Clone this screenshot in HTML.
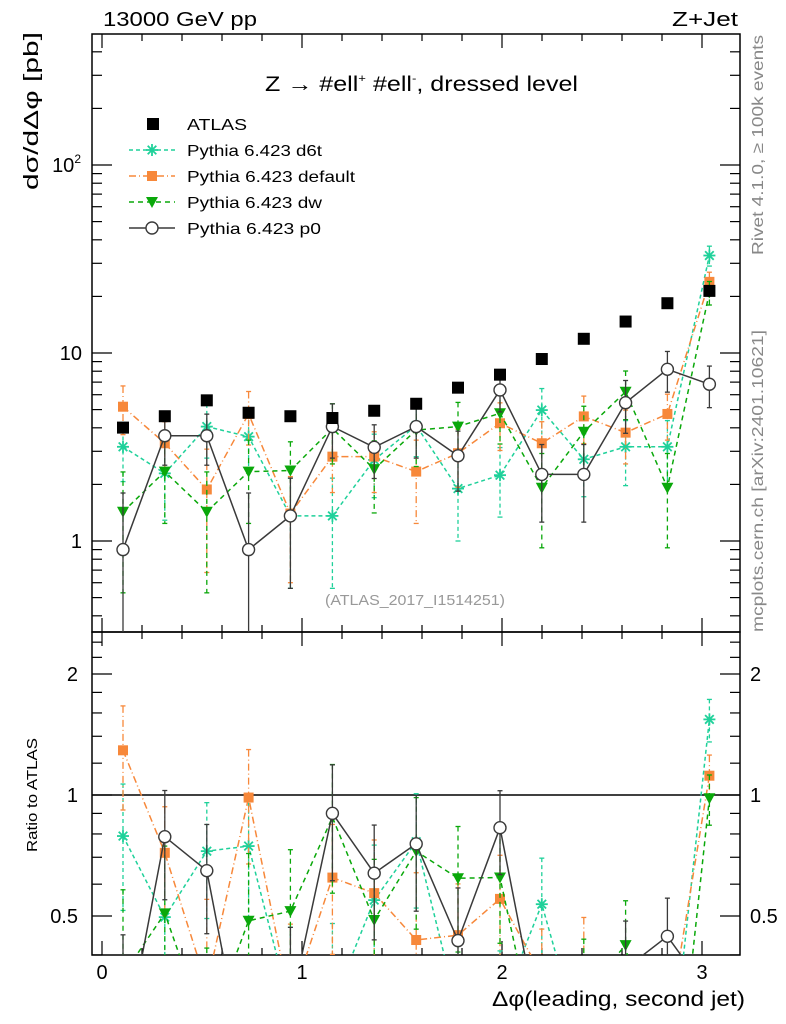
<!DOCTYPE html>
<html><head><meta charset="utf-8"><style>
html,body{margin:0;padding:0;background:#fff;overflow:hidden;width:786px;height:1024px;}
svg{display:block;font-family:"Liberation Sans",sans-serif;}
</style></head><body>
<svg id="c" width="786" height="1024" viewBox="0 0 786 1024">
<defs>
<clipPath id="cm"><rect x="92" y="34" width="648" height="598"/></clipPath>
<clipPath id="cr"><rect x="92" y="632" width="648" height="323"/></clipPath>
</defs>
<text x="103" y="26" font-size="20" textLength="154" lengthAdjust="spacingAndGlyphs">13000 GeV pp</text>
<text x="672" y="26" font-size="20" textLength="66" lengthAdjust="spacingAndGlyphs">Z+Jet</text>
<text x="265" y="91" font-size="21" textLength="313" lengthAdjust="spacingAndGlyphs">Z  →  #ell<tspan font-size="11" dy="-9">+</tspan><tspan dy="9"> #ell</tspan><tspan font-size="11" dy="-9">-</tspan><tspan dy="9">, dressed level</tspan></text>
<text transform="translate(38,190) rotate(-90)" font-size="20" textLength="158" lengthAdjust="spacingAndGlyphs">dσ/dΔφ [pb]</text>
<text transform="translate(37,852) rotate(-90)" font-size="15" textLength="114" lengthAdjust="spacingAndGlyphs">Ratio to ATLAS</text>
<text transform="translate(763,255) rotate(-90)" font-size="16" fill="#888" textLength="220" lengthAdjust="spacingAndGlyphs">Rivet 4.1.0, ≥ 100k events</text>
<text transform="translate(763,632) rotate(-90)" font-size="16" fill="#888" textLength="302" lengthAdjust="spacingAndGlyphs">mcplots.cern.ch [arXiv:2401.10621]</text>
<text x="325" y="605" font-size="15" fill="#999" textLength="180" lengthAdjust="spacingAndGlyphs">(ATLAS_2017_I1514251)</text>
<text x="492" y="1006" font-size="21" textLength="253" lengthAdjust="spacingAndGlyphs">Δφ(leading, second jet)</text>
<g id="axes"></g>
<g id="marks"></g>
<g id="legend"></g>
</svg>
<script>
const xCenters = [0.105,0.314,0.524,0.733,0.942,1.152,1.361,1.571,1.780,1.990,2.199,2.409,2.618,2.827,3.037];
const atlas = [4.01,4.61,5.6,4.81,4.61,4.51,4.93,5.37,6.54,7.67,9.29,11.9,14.7,18.4,21.4];
const d6t = [3.17,2.29,4.06,3.59,1.36,1.36,2.70,4.11,1.90,2.24,4.97,2.72,3.17,3.17,33];
const d6tErr = [1.1,1.0,1.3,1.2,0.8,0.8,1.0,1.3,0.9,0.9,1.5,1.0,1.2,1.2,4];
const dflt = [5.18,3.31,1.88,4.74,1.40,2.81,2.81,2.34,2.93,4.23,3.31,4.6,3.77,4.74,23.9];
const dfltErr = [1.5,1.0,1.2,1.5,0.8,1.0,1.0,1.1,1.0,1.2,1.0,1.3,1.2,1.3,3];
const dw = [1.43,2.34,1.43,2.34,2.37,3.97,2.41,3.89,4.06,4.78,1.92,3.81,6.22,1.92,21];
const dwErr = [0.9,1.1,0.9,1.1,1.0,1.4,1.0,1.4,1.4,1.5,1.0,1.4,1.8,1.0,3];
const p0 = [0.90,3.63,3.63,0.90,1.36,4.06,3.15,4.06,2.84,6.36,2.26,2.26,5.44,8.19,6.82];
const p0Err = [0.9,1.1,1.1,0.9,0.8,1.3,1.0,1.3,1.0,1.5,1.0,1.0,1.7,2.0,1.7];
const xTicks = [0,1,2,3];
const ratioTicks = [0.5,1,2];

const NS="http://www.w3.org/2000/svg";
const X = v => 102 + 200*v;
const Y = v => 541 - 188*Math.log10(Math.max(v,1e-4));
const R = v => 795 - 121*Math.log2(Math.max(v,1e-4));
function mk(t,a,p){const e=document.createElementNS(NS,t);for(const k in a)e.setAttribute(k,a[k]);p.appendChild(e);return e;}
const axes=document.getElementById('axes'), marks=document.getElementById('marks'), leg=document.getElementById('legend');

let f1=mk('rect',{x:92,y:34,width:648,height:598,fill:'none',stroke:'#000','stroke-width':1.5},axes);


let f2=mk('rect',{x:92,y:632,width:648,height:323,fill:'none',stroke:'#000','stroke-width':1.5},axes);


for(let v=0;v<=3.2;v+=0.2){const big=Math.abs(v-Math.round(v))<1e-6;const x=X(v);const L=big?14:7;
 [[34,1],[632,-1],[632,1],[955,-1]].forEach(([y,d])=>mk('line',{x1:x,x2:x,y1:y,y2:y+d*L,stroke:'#000','stroke-width':1.2},axes));}
xTicks.forEach(v=>{const t=mk('text',{x:X(v),y:979,'font-size':20,'text-anchor':'middle'},axes);t.textContent=v;
 
 });
for(let d=-1;d<=2;d++)for(let m=1;m<10;m++){const v=m*Math.pow(10,d);const y=Y(v);if(y<34||y>632)continue;const L=m==1?20:10;
 mk('line',{x1:92,x2:92+L,y1:y,y2:y,stroke:'#000','stroke-width':1.2},axes);mk('line',{x1:740,x2:740-L,y1:y,y2:y,stroke:'#000','stroke-width':1.2},axes);}
[[100,'10','2'],[10,'10',''],[1,'1','']].forEach(([v,b,s])=>{const t=mk('text',{x:s?81:82,y:Y(v)+7,'font-size':20,'text-anchor':'end'},axes);
 t.textContent=b; if(s){const ts=mk('tspan',{'font-size':12,dy:-9},t);ts.textContent=s;}
 
 });
[0.4,0.6,0.7,0.8,0.9,1.2,1.4,1.6,1.8,2.2,2.4].forEach(v=>{const y=R(v);mk('line',{x1:92,x2:102,y1:y,y2:y,stroke:'#000','stroke-width':1.2},axes);mk('line',{x1:740,x2:730,y1:y,y2:y,stroke:'#000','stroke-width':1.2},axes);});
ratioTicks.forEach(v=>{const y=R(v);mk('line',{x1:92,x2:112,y1:y,y2:y,stroke:'#000','stroke-width':1.2},axes);mk('line',{x1:740,x2:720,y1:y,y2:y,stroke:'#000','stroke-width':1.2},axes);
 let t=mk('text',{x:78,y:y+7,'font-size':20,'text-anchor':'end'},axes);t.textContent=v;
 
 
 t=mk('text',{x:750,y:y+7,'font-size':20},axes);t.textContent=v;
 
 });
let ref=mk('line',{x1:92,x2:740,y1:R(1),y2:R(1),stroke:'#000','stroke-width':1.5},axes);



function marker(type,x,y,col,p){
 if(type=='sq')return mk('rect',{x:x-5,y:y-5,width:10,height:10,fill:col},p);
 if(type=='bsq')return mk('rect',{x:x-6,y:y-6,width:12,height:12,fill:'#000'},p);
 if(type=='tri')return mk('path',{d:`M${x-6},${y-5}L${x+6},${y-5}L${x},${y+6}Z`,fill:col},p);
 if(type=='circ')return mk('circle',{cx:x,cy:y,r:6,fill:'#fff',stroke:col,'stroke-width':1.4},p);
 if(type=='star'){const g=mk('g',{stroke:col,'stroke-width':1.8},p);
  [[0,-6,0,6],[-6,0,6,0],[-4.3,-4.3,4.3,4.3],[-4.3,4.3,4.3,-4.3]].forEach(a=>mk('line',{x1:x+a[0],y1:y+a[1],x2:x+a[2],y2:y+a[3]},g));return g;}
}
const series=[
 {name:'d6t',vals:d6t,err:d6tErr,col:'#1fd19a',dash:'4,3',m:'star',label:'Pythia 6.423 d6t'},
 {name:'default',vals:dflt,err:dfltErr,col:'#f7883a',dash:'7,3,1,3',m:'sq',label:'Pythia 6.423 default'},
 {name:'dw',vals:dw,err:dwErr,col:'#0aa80a',dash:'5,4',m:'tri',label:'Pythia 6.423 dw'},
 {name:'p0',vals:p0,err:p0Err,col:'#3a3a3a',dash:'',m:'circ',label:'Pythia 6.423 p0'}];

const gm=mk('g',{'clip-path':'url(#cm)'},marks), gr=mk('g',{'clip-path':'url(#cr)'},marks);
series.forEach(s=>{
 ['main','ratio'].forEach(panel=>{
  const g=panel=='main'?gm:gr;
  const vals=s.vals.map((v,i)=>panel=='main'?v:v/atlas[i]);
  const errs=s.err.map((e,i)=>panel=='main'?e:e/atlas[i]);
  const F=panel=='main'?Y:R;
  const grp=mk('g',{},g);
  
  
  const pts=vals.map((v,i)=>X(xCenters[i])+','+F(v)).join(' ');
  mk('polyline',{points:pts,fill:'none',stroke:s.col,'stroke-width':1.5,'stroke-dasharray':s.dash},grp);
  vals.forEach((v,i)=>{const x=X(xCenters[i]);const hi=F(v+errs[i]),lo=F(Math.max(v-errs[i],1e-4));
   mk('line',{x1:x,x2:x,y1:hi,y2:lo,stroke:s.col,'stroke-width':1.3,'stroke-dasharray':s.dash},grp);
   mk('line',{x1:x-2.5,x2:x+2.5,y1:hi,y2:hi,stroke:s.col,'stroke-width':1.3},grp);
   mk('line',{x1:x-2.5,x2:x+2.5,y1:lo,y2:lo,stroke:s.col,'stroke-width':1.3},grp);
   const mm=marker(s.m,x,F(v),s.col,grp);
   
   });
 });
});
atlas.forEach((v,i)=>{const mm=marker('bsq',X(xCenters[i]),Y(v),'#000',gm);
 
 });

const le=mk('g',{},leg);


marker('bsq',153,124,'#000',le);
let lt=mk('text',{x:187,y:130,'font-size':16,textLength:60,lengthAdjust:'spacingAndGlyphs'},le);lt.textContent='ATLAS';
const legW=[135,168,135,134];
series.forEach((s,k)=>{const y=150+k*26;const g=mk('g',{},leg);
 
 
 mk('line',{x1:129,x2:175,y1:y,y2:y,stroke:s.col,'stroke-width':1.5,'stroke-dasharray':s.dash},g);
 marker(s.m,152,y,s.col,g);
 const t=mk('text',{x:187,y:y+6,'font-size':16,textLength:legW[k],lengthAdjust:'spacingAndGlyphs'},g);t.textContent=s.label;});
</script>
</body></html>
